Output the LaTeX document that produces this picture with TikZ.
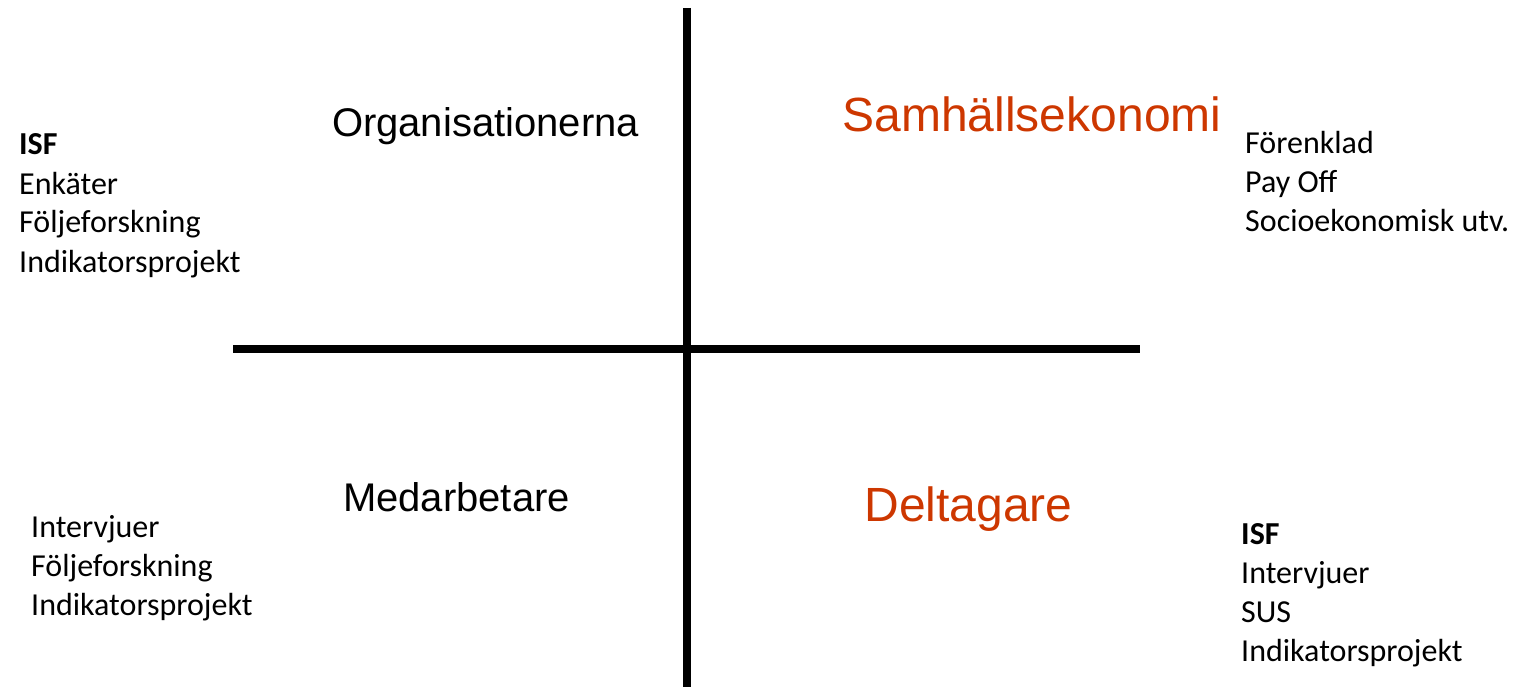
\documentclass[tikz,border=0pt]{standalone}
\usepackage{fontspec}
\setmainfont{Carlito}
\newfontfamily\arialf{Liberation Sans}
\definecolor{accent}{RGB}{205,55,0}
\tikzset{
  axis/.style={line width=8pt, black},
  title/.style={anchor=base, inner sep=0pt, font=\arialf\fontsize{40}{48}\selectfont},
  bigtitle/.style={anchor=base, inner sep=0pt, text=accent, font=\arialf\fontsize{48}{58}\selectfont},
  item/.style={anchor=base west, inner sep=0pt, font=\fontsize{32}{39}\selectfont},
}
\begin{document}
\begin{tikzpicture}[x=1pt,y=-1pt]
\useasboundingbox (0,0) rectangle (1517,687);
% axes
\coordinate (vtop) at (687,8);
\coordinate (vbot) at (687,687);
\coordinate (hl) at (233,348.5);
\coordinate (hr) at (1140,348.5);
\draw[axis] (vtop) -- (vbot);
\draw[axis] (hl) -- (hr);
% quadrant titles
\node[title] (org) at (485.5,137) {Organisationerna};
\node[bigtitle] (sam) at (1032,132) {Samhällsekonomi};
\node[title] (med) at (456.5,511) {Medarbetare};
\node[bigtitle] (del) at (968.5,521) {Deltagare};
% top left list
\node[item, font=\fontsize{32}{39}\selectfont\bfseries] (tl1) at (19,155) {ISF};
\node[item] (tl2) at (19,194) {Enkäter};
\node[item] (tl3) at (19,233) {Följeforskning};
\node[item] (tl4) at (19,272) {Indikatorsprojekt};
% top right list
\node[item] (tr1) at (1245,154) {Förenklad};
\node[item] (tr2) at (1245,193) {Pay Off};
\node[item] (tr3) at (1245,231) {Socioekonomisk utv.};
% bottom left list
\node[item] (bl1) at (31,537) {Intervjuer};
\node[item] (bl2) at (31,576) {Följeforskning};
\node[item] (bl3) at (31,615) {Indikatorsprojekt};
% bottom right list
\node[item, font=\fontsize{32}{39}\selectfont\bfseries] (br1) at (1241,544) {ISF};
\node[item] (br2) at (1241,583) {Intervjuer};
\node[item] (br3) at (1241,622) {SUS};
\node[item] (br4) at (1241,661) {Indikatorsprojekt};
\end{tikzpicture}
\end{document}
